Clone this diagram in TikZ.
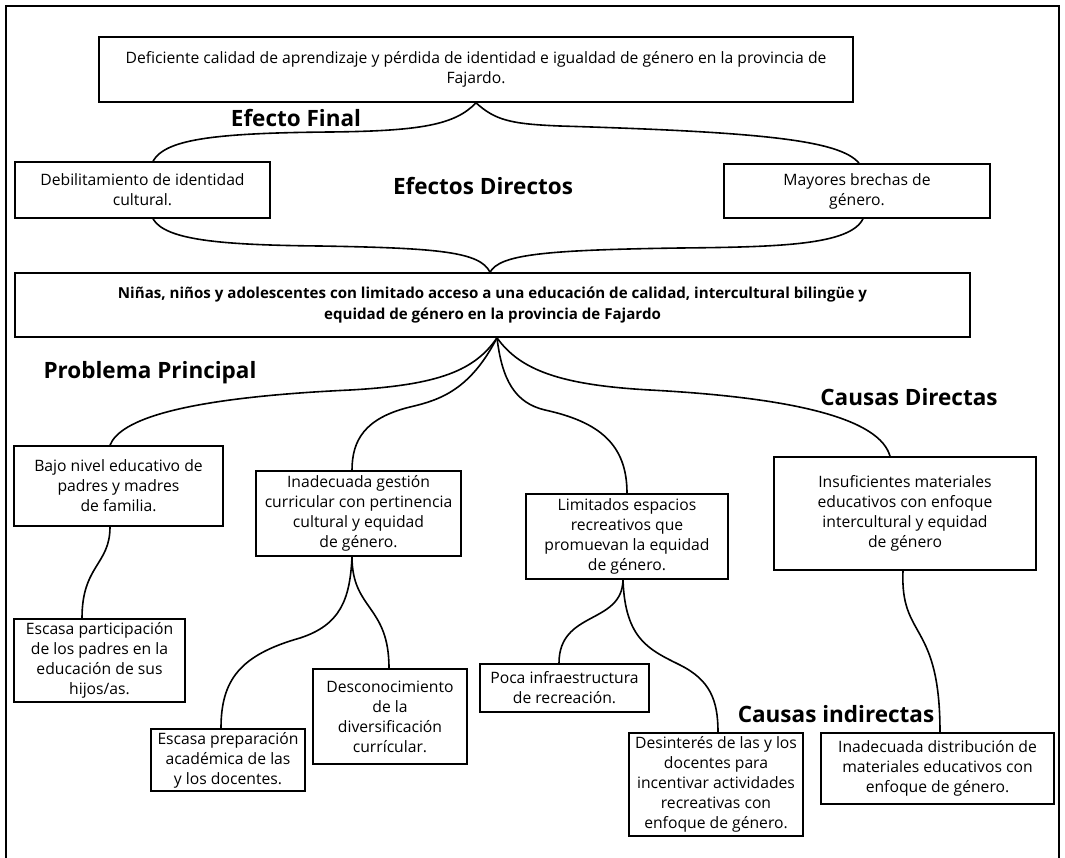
\documentclass[tikz,border=0pt]{standalone}
\usepackage{fontspec}
\setmainfont{Open Sans}
\tikzset{
  box/.style={draw=black, line width=1.6pt, align=center, inner sep=2pt, font=\fontsize{15.7}{20}\selectfont},
  mainbox/.style={box, font=\fontsize{15.1}{21}\selectfont\bfseries},
  heading/.style={font=\fontsize{22.5}{26}\selectfont\bfseries, inner sep=0pt},
  link/.style={line width=1.6pt},
  frame/.style={line width=1.6pt}
}
\begin{document}
\begin{tikzpicture}[x=1pt, y=-1pt]
\useasboundingbox (0,0) rectangle (1065,857);
\draw[frame] (6,866) -- (6,6) -- (1059,6) -- (1059,866);

\node[box, minimum width=754, minimum height=65] (final) at (476,69.5) {Deficiente calidad de aprendizaje y pérdida de identidad e igualdad de género en la provincia de\\Fajardo.};
\node[box, minimum width=255, minimum height=56] (identidad) at (142.5,190) {Debilitamiento de identidad\\cultural.};
\node[box, minimum width=266, minimum height=54] (brechas) at (857,191) {Mayores brechas de\\género.};
\node[mainbox, minimum width=955, minimum height=64] (problema) at (492.5,305) {Niñas, niños y adolescentes con limitado acceso a una educación de calidad, intercultural bilingüe y\\equidad de género en la provincia de Fajardo};

\node[box, minimum width=209, minimum height=80] (padres) at (118.5,486) {Bajo nivel educativo de\\padres y madres\\de familia.};
\node[box, minimum width=205, minimum height=85] (gestion) at (358.5,513.5) {Inadecuada gestión\\curricular con pertinencia\\cultural y equidad\\de género.};
\node[box, minimum width=202, minimum height=85] (espacios) at (627,536.5) {Limitados espacios\\recreativos que\\promuevan la equidad\\de género.};
\node[box, minimum width=262, minimum height=113] (materiales) at (905,513.5) {Insuficientes materiales\\educativos con enfoque\\intercultural y equidad\\de género};

\node[box, minimum width=171, minimum height=83] (participacion) at (99.5,660.5) {Escasa participación\\de los padres en la\\educación de sus\\hijos/as.};
\node[box, minimum width=154, minimum height=62] (preparacion) at (228,760) {Escasa preparación\\académica de las\\y los docentes.};
\node[box, minimum width=154, minimum height=95] (diversificacion) at (390,716.5) {Desconocimiento\\de la\\diversificación\\currícular.};
\node[box, minimum width=169, minimum height=48] (infraestructura) at (564.5,688) {Poca infraestructura\\de recreación.};
\node[box, minimum width=174, minimum height=103] (desinteres) at (716,784.5) {Desinterés de las y los\\docentes para\\incentivar actividades\\recreativas con\\enfoque de género.};
\node[box, minimum width=233, minimum height=71] (distribucion) at (937.5,768.5) {Inadecuada distribución de\\materiales educativos con\\enfoque de género.};

\node[heading] (hfinal) at (296,118) {Efecto Final};
\node[heading] (hdirectos) at (483,186) {Efectos Directos};
\node[heading] (hproblema) at (150,373) {Problema Principal};
\node[heading] (hcausas) at (909,397) {Causas Directas};
\node[heading] (hindirectas) at (836,714) {Causas indirectas};

\draw[link] (final.south) .. controls (455,125) and (420,131) .. (330,132) .. controls (210,133) and (165,140) .. ([xshift=10.5pt]identidad.north);
\draw[link] (final.south) .. controls (495,120) and (510,124) .. (560,126) .. controls (760,132) and (840,140) .. ([xshift=2pt]brechas.north);
\draw[link] ([xshift=10.5pt]identidad.south) .. controls (165,240) and (220,245) .. (320,246) .. controls (440,248) and (480,252) .. ([xshift=-2.5pt]problema.north);
\draw[link] ([xshift=6pt]brechas.south) .. controls (850,245) and (780,247) .. (680,248) .. controls (540,250) and (500,255) .. ([xshift=-2.5pt]problema.north);

\draw[link] ([xshift=4.5pt]problema.south) .. controls (475,370) and (440,385) .. (350,390) .. controls (180,398) and (120,420) .. ([xshift=-8.5pt]padres.north);
\draw[link] ([xshift=4.5pt]problema.south) .. controls (470,390) and (440,400) .. (410,407) .. controls (365,418) and (352,440) .. ([xshift=-6.5pt]gestion.north);
\draw[link] ([xshift=4.5pt]problema.south) .. controls (502,380) and (515,403) .. (545,410) .. controls (600,422) and (627,445) .. (espacios.north);
\draw[link] ([xshift=4.5pt]problema.south) .. controls (520,370) and (560,385) .. (650,390) .. controls (800,398) and (880,420) .. ([xshift=-15pt]materiales.north);

\draw[link] ([xshift=-8.5pt]padres.south) .. controls (110,565) and (82,565) .. ([xshift=-17.5pt]participacion.north);
\draw[link] ([xshift=-6.5pt]gestion.south) .. controls (350,600) and (340,625) .. (300,638) .. controls (240,655) and (221,680) .. ([xshift=-7pt]preparacion.north);
\draw[link] ([xshift=-6.5pt]gestion.south) .. controls (352,610) and (389,605) .. ([xshift=-1pt]diversificacion.north);
\draw[link] ([xshift=-4pt]espacios.south) .. controls (622,625) and (559,610) .. ([xshift=-5.5pt]infraestructura.north);
\draw[link] ([xshift=-4pt]espacios.south) .. controls (625,640) and (650,650) .. (680,665) .. controls (710,680) and (718,700) .. ([xshift=2pt]desinteres.north);
\draw[link] ([xshift=-2pt]materiales.south) .. controls (900,640) and (940,620) .. ([xshift=2.5pt]distribucion.north);
\end{tikzpicture}
\end{document}
